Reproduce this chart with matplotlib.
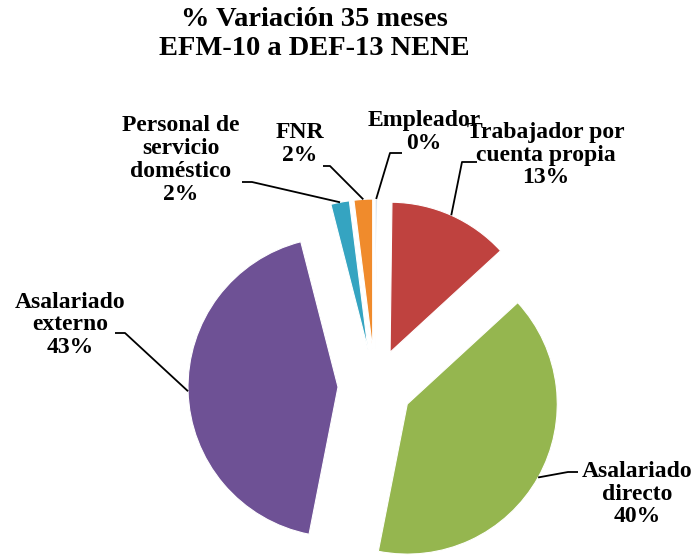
import numpy as np
import matplotlib
matplotlib.use("Agg")
import matplotlib.pyplot as plt

# data (clockwise from 12 o'clock)
labels = ["Empleador", "Trabajador por\ncuenta propia", "Asalariado\ndirecto",
          "Asalariado\nexterno", "Personal de\nservicio\ndoméstico", "FNR"]
values = [0.2, 13.0, 40.0, 43.0, 2.0, 2.0]
pct_text = ["0%", "13%", "40%", "43%", "2%", "2%"]
colors = ["#B9CBE0", "#BF423F", "#95B64F", "#6E5195", "#35A4C1", "#F08B2C"]

W, H = 698, 556
serif = ['Liberation Serif', 'DejaVu Serif']
plt.rcParams['font.family'] = serif

fig = plt.figure(figsize=(W / 100, H / 100), dpi=100)
ax = fig.add_axes([0, 0, 1, 1])

wedges, _ = ax.pie(values, center=(375, H - 386), radius=150, startangle=90,
                   counterclock=False, explode=[37] * len(values), colors=colors,
                   wedgeprops=dict(linewidth=0.8, edgecolor='white'))
ax.set_xlim(0, W)
ax.set_ylim(0, H)
ax.set_aspect('auto')
ax.axis('off')

# label layout in pixels from top: text centre, start of leader, elbow x
layout = [
    ((424, 132), (402, 153), 390),
    ((546, 155), (477, 162), 462),
    ((637, 494), (578, 472), 568),
    ((70, 325), (115, 333), 125),
    ((181, 160), (242, 182), 252),
    ((300, 144), (323, 166), 330),
]

for w, lab, pct, (tc, ls, ex) in zip(wedges, labels, pct_text, layout):
    ang = np.deg2rad((w.theta1 + w.theta2) / 2)
    cx, cy = w.center
    px = cx + w.r * np.cos(ang)
    py = cy + w.r * np.sin(ang)
    ax.plot([ls[0], ex, px], [H - ls[1], H - ls[1], py], color='black', lw=1.3,
            solid_capstyle='butt', zorder=3)
    ax.text(tc[0], H - tc[1], lab + "\n" + pct, ha='center', va='center',
            fontsize=17, fontweight='bold', family=serif, linespacing=1.12, zorder=4)

ax.text(314, H - 34, "% Variación 35 meses\nEFM-10 a DEF-13 NENE", ha='center',
        va='center', fontsize=20.5, fontweight='bold', family=serif, linespacing=1.22)

fig.savefig("out.png", dpi=100)
